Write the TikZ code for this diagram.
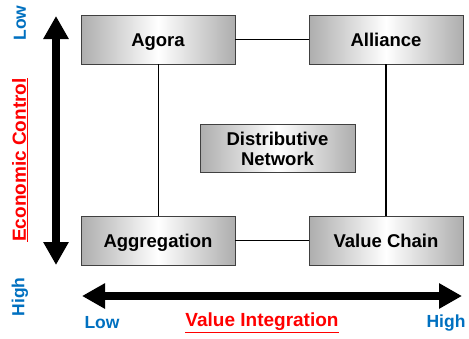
\documentclass[tikz,border=0pt]{standalone}
\usepackage{fontspec}
\setmainfont{Liberation Sans}
\usepackage{xcolor}
\usepackage{tikz}
\usetikzlibrary{arrows.meta}
\definecolor{axisblue}{RGB}{0,112,192}
\definecolor{axisred}{RGB}{255,0,0}
\tikzset{
 quadbox/.style={draw=black!75, line width=.8pt, minimum width=154pt, minimum height=49pt,
  left color=black!32, right color=black!32, middle color=white,
  font=\fontsize{18.5}{20}\selectfont\bfseries, inner sep=0pt},
 onebox/.style={quadbox, text height=13pt, text depth=0pt},
 bigarrow/.style={line width=8pt, {Triangle[length=23pt,width=24pt]}-{Triangle[length=23pt,width=24pt]}},
 axislabel/.style={font=\fontsize{17.5}{20}\selectfont\bfseries, inner sep=0pt},
 axistitle/.style={font=\fontsize{19}{21}\selectfont\bfseries, inner sep=0pt, text=axisred}
}

\begin{document}
\begin{tikzpicture} [x=1pt, y=-1pt]
\useasboundingbox (0,0) rectangle (469,338);
% the four corners and the middle
\node[onebox] (agora) at (158,39.5) {Agora};
\node[onebox] (alliance) at (386,39.5) {Alliance};
\node[onebox] (aggregation) at (158,240.5) {Aggregation};
\node[onebox] (valuechain) at (386,240.5) {Value Chain};
\node[quadbox, minimum width=155pt, minimum height=48pt, align=center] (distnet) at (277.5,148.5) {Distributive\\Network};
\draw[line width=1.5pt] (agora) -- (alliance);
\draw[line width=1.5pt] (alliance) -- (valuechain);
\draw[line width=.8pt] (agora) -- (aggregation);
\draw[line width=.8pt] (aggregation) -- (valuechain);
% axes
\coordinate (ctop) at (56,16);
\coordinate (cbot) at (56,265);
\coordinate (vleft) at (82,296);
\coordinate (vright) at (462,296);
\draw[bigarrow] (ctop) -- (cbot);
\draw[bigarrow] (vleft) -- (vright);
\node[axislabel, text=axisblue, rotate=90] (clow) at (20,23) {Low};
\node[axistitle, rotate=90] (ctitle) at (20,160) {\underline{Economic Control}};
\node[axislabel, text=axisblue, rotate=90] (chigh) at (20,297) {High};
\node[axislabel, text=axisblue] (vlow) at (102,323) {Low};
\node[axistitle] (vtitle) at (262,323) {\underline{Value Integration}};
\node[axislabel, text=axisblue] (vhigh) at (446,323) {High};
\end{tikzpicture}
\end{document}
